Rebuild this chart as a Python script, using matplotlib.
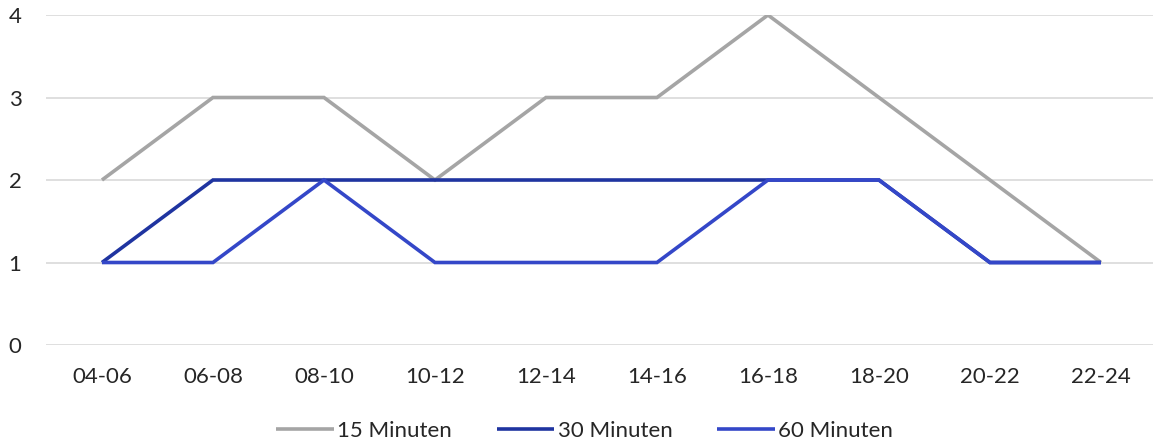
import matplotlib
matplotlib.use("Agg")
import matplotlib.pyplot as plt

categories = ["04-06", "06-08", "08-10", "10-12", "12-14", "14-16", "16-18", "18-20", "20-22", "22-24"]
series_names = ["15 Minuten", "30 Minuten", "60 Minuten"]
min15 = [2, 3, 3, 2, 3, 3, 4, 3, 2, 1]
min30 = [1, 2, 2, 2, 2, 2, 2, 2, 1, 1]
min60 = [1, 1, 2, 1, 1, 1, 2, 2, 1, 1]
colors = ["#A5A5A5", "#1F34A0", "#3447C8"]
yticks = [0, 1, 2, 3, 4]

plt.rcParams['font.family'] = ['Lato', 'DejaVu Sans']
fig = plt.figure(figsize=(11.53, 4.48), dpi=100)
ax = fig.add_axes([0.0403, 0.2299, 0.9627, 0.7366])

x = list(range(len(categories)))
for vals, name, c in zip([min15, min30, min60], series_names, colors):
    ax.plot(x, vals, color=c, lw=2.6, label=name, solid_capstyle='butt', solid_joinstyle='miter')

ax.set_xlim(-0.5, 9.5)
ax.set_ylim(0, 4)
ax.set_yticks(yticks)
ax.set_xticks(x)
ax.set_xticklabels(categories)
ax.grid(axis='y', color='#D9D9D9', lw=1.2)
ax.set_axisbelow(True)
for s in ax.spines.values():
    s.set_visible(False)
ax.tick_params(axis='both', length=0, labelsize=16, colors='#262626')
ax.tick_params(axis='x', pad=16)
ax.tick_params(axis='y', pad=18)

ax.legend(loc='center', bbox_to_anchor=(0.507, 0.038), bbox_transform=fig.transFigure,
          ncol=3, frameon=False, fontsize=16, handlelength=2.6, handletextpad=0.15,
          columnspacing=2.0, labelcolor='#262626', borderpad=0)
fig.savefig("out.png", dpi=100)
